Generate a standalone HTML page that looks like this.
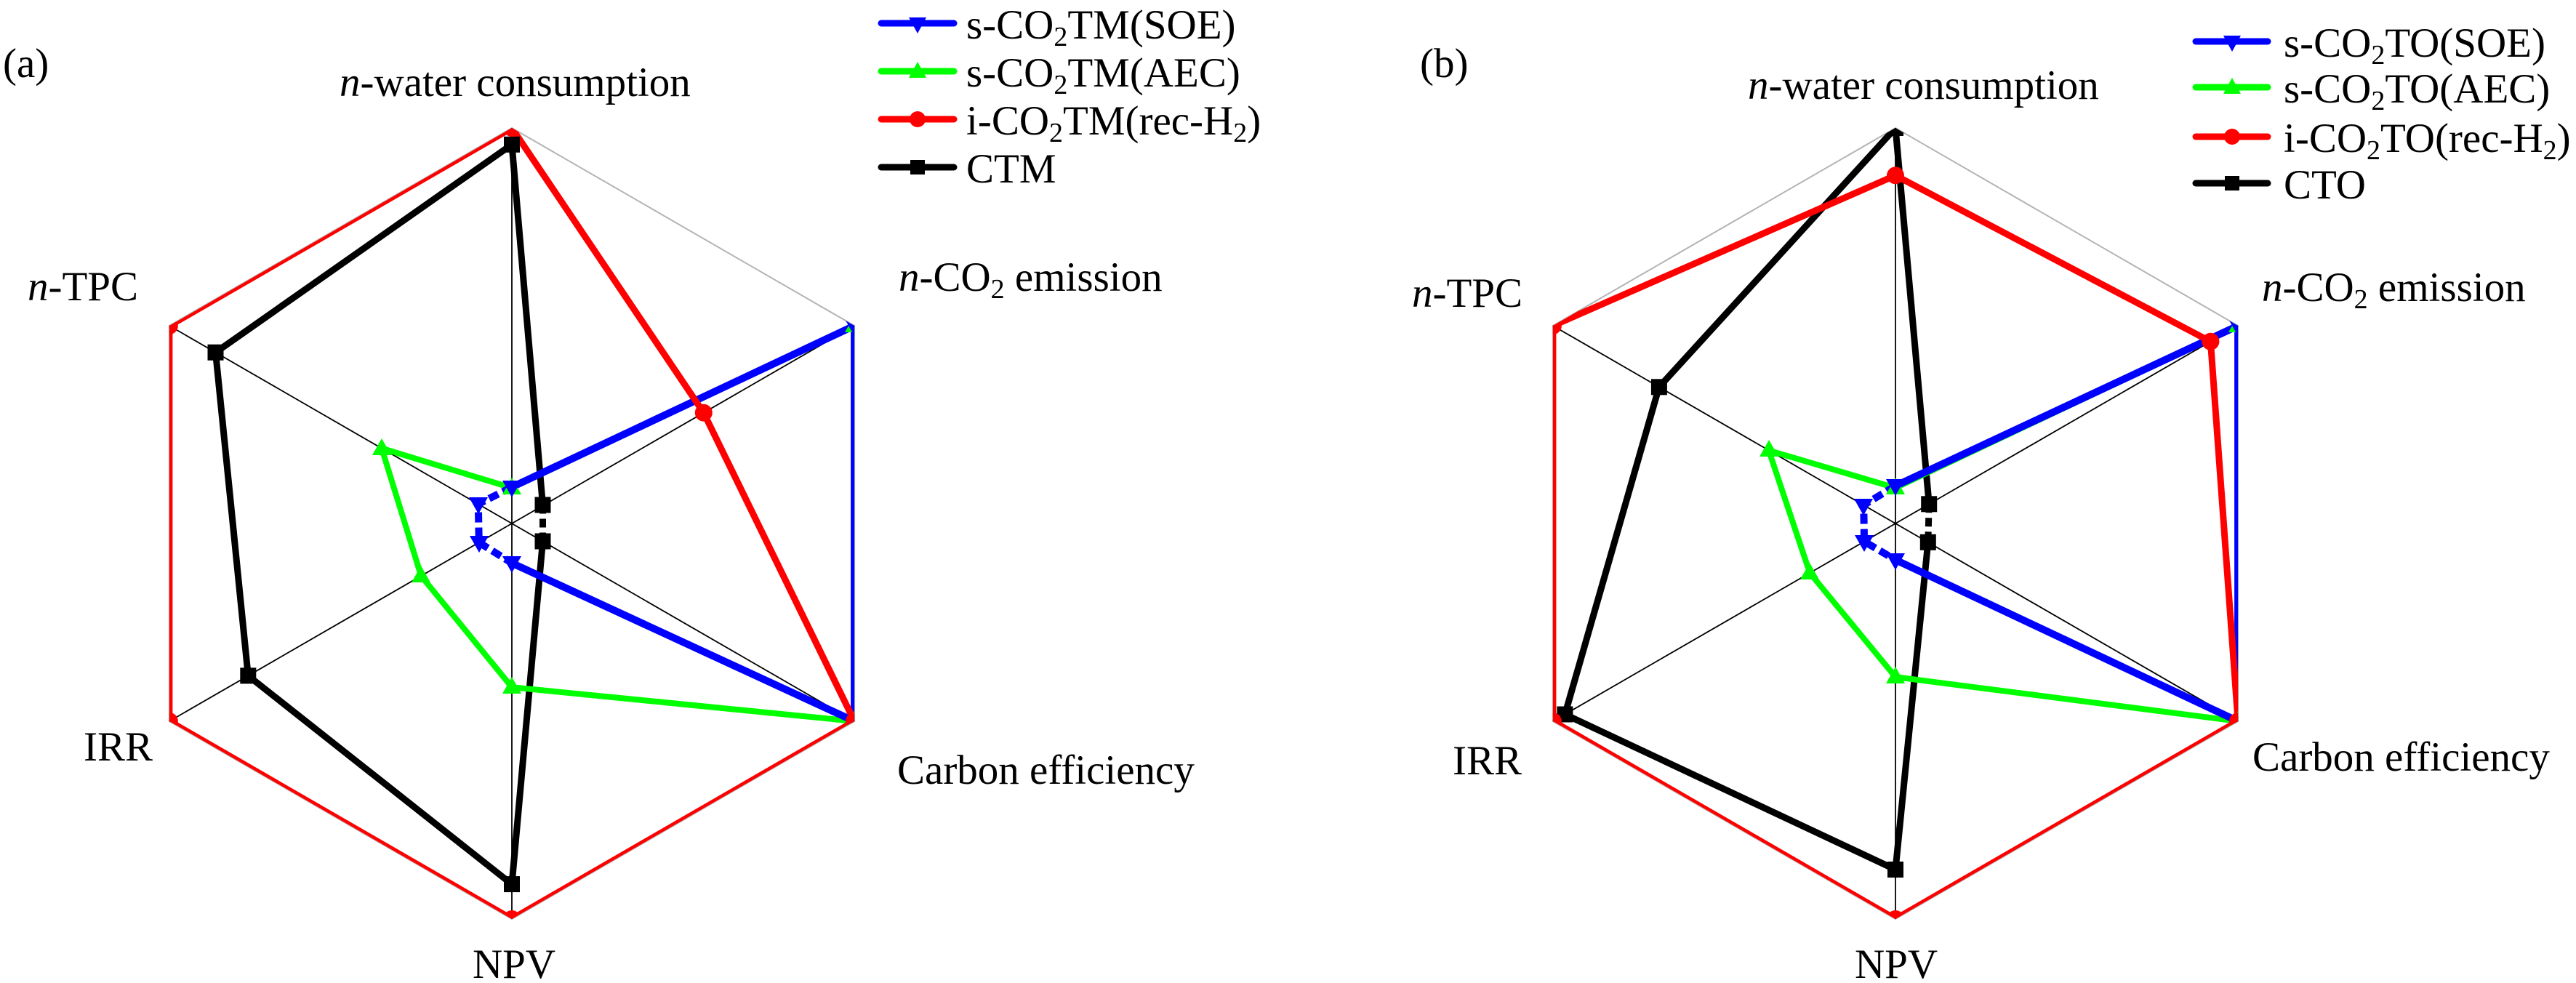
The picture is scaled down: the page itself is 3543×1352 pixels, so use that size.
<!DOCTYPE html>
<html>
<head>
<meta charset="utf-8">
<style>
  html, body { margin: 0; padding: 0; background: #ffffff; }
  body { width: 3543px; height: 1352px; overflow: hidden; }
  svg { display: block; }
  text { font-family: "Liberation Serif", "Times New Roman", serif; font-size: 57px; fill: #000; }
</style>
</head>
<body>
<svg width="3543" height="1352" viewBox="0 0 3543 1352" xmlns="http://www.w3.org/2000/svg" font-family="Liberation Serif, Times New Roman, serif">
  <rect x="0" y="0" width="3543" height="1352" fill="#ffffff"/>
  <defs>
    <clipPath id="hexA">
      <polygon points="704,176 1175.1,448 1175.1,992 704,1264 232.9,992 232.9,448"/>
    </clipPath>
    <clipPath id="hexB">
      <polygon points="2607,176 3078.1,448 3078.1,992 2607,1264 2135.9,992 2135.9,448"/>
    </clipPath>
  </defs>

  <!-- ================= CHART (a) ================= -->
  <g>
    <polygon points="704,176 1175.1,448 1175.1,992 704,1264 232.9,992 232.9,448" fill="none" stroke="#b4b4b4" stroke-width="2"/>
    <g stroke="#000" stroke-width="1.8">
      <line x1="704" y1="720" x2="704" y2="176"/>
      <line x1="704" y1="720" x2="1175.1" y2="448"/>
      <line x1="704" y1="720" x2="1175.1" y2="992"/>
      <line x1="704" y1="720" x2="704" y2="1264"/>
      <line x1="704" y1="720" x2="232.9" y2="992"/>
      <line x1="704" y1="720" x2="232.9" y2="448"/>
    </g>
    <g clip-path="url(#hexA)" fill="none" stroke-linejoin="round">
      <path d="M704,198.8 L746.5,694.5" stroke="#000" stroke-width="9"/>
      <path d="M746.5,694.5 L746.5,744.5" stroke="#000" stroke-width="9" stroke-dasharray="12 7"/>
      <path d="M746.5,744.5 L704,1216.1 L341.3,929.4 L296.5,484.7 L704,198.8" stroke="#000" stroke-width="9"/>
      <polygon points="704,671 1175.1,448 1175.1,992 704,945.2 579.2,792.1 525,616.6" stroke="#00ff00" stroke-width="8"/>
      <path d="M704,774.4 L1175.1,992 L1175.1,448 L704,670" stroke="#0000ff" stroke-width="10"/>
      <path d="M704,670 L657.8,693.3 L658.8,746.1 L704,774.4" stroke="#0000ff" stroke-width="10" stroke-dasharray="14 7"/>
      <polygon points="704,176 967.8,567.7 1175.1,992 704,1264 232.9,992 232.9,448" stroke="#ff0000" stroke-width="9"/>

      <g fill="#000" stroke="none">
        <rect x="693" y="187.8" width="22" height="22"/>
        <rect x="735.5" y="683.5" width="22" height="22"/>
        <rect x="735.5" y="733.5" width="22" height="22"/>
        <rect x="693" y="1205.1" width="22" height="22"/>
        <rect x="330.3" y="918.4" width="22" height="22"/>
        <rect x="285.5" y="473.7" width="22" height="22"/>
      </g>
      <g fill="#00ff00" stroke="none">
        <polygon points="691,680 717,680 704,657"/>
        <polygon points="1162,457 1188,457 1175,434"/>
        <polygon points="1162,1001 1188,1001 1175,978"/>
        <polygon points="691,954 717,954 704,931"/>
        <polygon points="566,801 592,801 579,778"/>
        <polygon points="512,626 538,626 525,603"/>
      </g>
      <g fill="#0000ff" stroke="none">
        <polygon points="691,661 717,661 704,684"/>
        <polygon points="1162,439 1188,439 1175,462"/>
        <polygon points="1162,983 1188,983 1175,1006"/>
        <polygon points="691,765 717,765 704,788"/>
        <polygon points="646,737 672,737 659,760"/>
        <polygon points="645,684 671,684 658,707"/>
      </g>
      <g fill="#ff0000" stroke="none">
        <circle cx="704" cy="176" r="12"/>
        <circle cx="967.8" cy="567.7" r="12"/>
        <circle cx="1175.1" cy="992" r="12"/>
        <circle cx="704" cy="1264" r="12"/>
        <circle cx="232.9" cy="992" r="12"/>
        <circle cx="232.9" cy="448" r="12"/>
      </g>
    </g>

    <text x="4" y="106">(a)</text>
    <text x="467" y="132"><tspan font-style="italic">n</tspan>-water consumption</text>
    <text x="1236" y="400"><tspan font-style="italic">n</tspan>-CO<tspan font-size="38" dy="10">2</tspan><tspan dy="-10"> emission</tspan></text>
    <text x="1234" y="1078">Carbon efficiency</text>
    <text x="650" y="1345">NPV</text>
    <text x="115" y="1046">IRR</text>
    <text x="38" y="413"><tspan font-style="italic">n</tspan>-TPC</text>

    <g stroke-linecap="round" stroke-width="9">
      <line x1="1212" y1="32" x2="1312" y2="32" stroke="#0000ff"/>
      <line x1="1212" y1="98" x2="1312" y2="98" stroke="#00ff00"/>
      <line x1="1212" y1="164" x2="1312" y2="164" stroke="#ff0000"/>
      <line x1="1212" y1="230" x2="1312" y2="230" stroke="#000"/>
    </g>
    <polygon points="1250,24 1274,24 1262,46" fill="#0000ff"/>
    <polygon points="1250,107 1274,107 1262,85" fill="#00ff00"/>
    <circle cx="1262" cy="164" r="11" fill="#ff0000"/>
    <rect x="1252" y="220" width="20" height="20" fill="#000"/>
    <text x="1329" y="53">s-CO<tspan font-size="38" dy="10">2</tspan><tspan dy="-10">TM(SOE)</tspan></text>
    <text x="1329" y="119">s-CO<tspan font-size="38" dy="10">2</tspan><tspan dy="-10">TM(AEC)</tspan></text>
    <text x="1329" y="185">i-CO<tspan font-size="38" dy="10">2</tspan><tspan dy="-10">TM(rec-H</tspan><tspan font-size="38" dy="10">2</tspan><tspan dy="-10">)</tspan></text>
    <text x="1329" y="251">CTM</text>
  </g>

  <!-- ================= CHART (b) ================= -->
  <g>
    <polygon points="2607,176 3078.1,448 3078.1,992 2607,1264 2135.9,992 2135.9,448" fill="none" stroke="#b4b4b4" stroke-width="2"/>
    <g stroke="#000" stroke-width="1.8">
      <line x1="2607" y1="720" x2="2607" y2="176"/>
      <line x1="2607" y1="720" x2="3078.1" y2="448"/>
      <line x1="2607" y1="720" x2="3078.1" y2="992"/>
      <line x1="2607" y1="720" x2="2607" y2="1264"/>
      <line x1="2607" y1="720" x2="2135.9" y2="992"/>
      <line x1="2607" y1="720" x2="2135.9" y2="448"/>
    </g>
    <g clip-path="url(#hexB)" fill="none" stroke-linejoin="round">
      <path d="M2607,176 L2653.2,693.3" stroke="#000" stroke-width="9"/>
      <path d="M2653.2,693.3 L2651.8,745.8" stroke="#000" stroke-width="9" stroke-dasharray="12 7"/>
      <path d="M2651.8,745.8 L2607,1196 L2152.4,982.5 L2281.9,532.3 L2607,176" stroke="#000" stroke-width="9"/>
      <polygon points="2607,671 3078.1,448 3078.1,992 2607,931.1 2489.2,788 2432.7,619.4" stroke="#00ff00" stroke-width="8"/>
      <path d="M2607,770 L3078.1,992 L3078.1,448 L2607,668.3" stroke="#0000ff" stroke-width="10"/>
      <path d="M2607,668.3 L2563.2,694.7 L2564.1,744.8 L2607,770" stroke="#0000ff" stroke-width="10" stroke-dasharray="14 7"/>
      <polygon points="2607,241.3 3040.4,469.8 3078.1,992 2607,1264 2135.9,992 2135.9,448" stroke="#ff0000" stroke-width="9"/>

      <g fill="#000" stroke="none">
        <rect x="2596" y="165" width="22" height="22"/>
        <rect x="2642.2" y="682.3" width="22" height="22"/>
        <rect x="2640.8" y="734.8" width="22" height="22"/>
        <rect x="2596" y="1185" width="22" height="22"/>
        <rect x="2141.4" y="971.5" width="22" height="22"/>
        <rect x="2270.9" y="521.3" width="22" height="22"/>
      </g>
      <g fill="#00ff00" stroke="none">
        <polygon points="2594,680 2620,680 2607,657"/>
        <polygon points="3065,457 3091,457 3078,434"/>
        <polygon points="3065,1001 3091,1001 3078,978"/>
        <polygon points="2594,940 2620,940 2607,917"/>
        <polygon points="2476,797 2502,797 2489,774"/>
        <polygon points="2420,628 2446,628 2433,605"/>
      </g>
      <g fill="#0000ff" stroke="none">
        <polygon points="2594,659 2620,659 2607,682"/>
        <polygon points="3065,439 3091,439 3078,462"/>
        <polygon points="3065,983 3091,983 3078,1006"/>
        <polygon points="2594,761 2620,761 2607,784"/>
        <polygon points="2551,736 2577,736 2564,759"/>
        <polygon points="2550,686 2576,686 2563,709"/>
      </g>
      <g fill="#ff0000" stroke="none">
        <circle cx="2607" cy="241.3" r="12"/>
        <circle cx="3040.4" cy="469.8" r="12"/>
        <circle cx="3078.1" cy="992" r="12"/>
        <circle cx="2607" cy="1264" r="12"/>
        <circle cx="2135.9" cy="992" r="12"/>
        <circle cx="2135.9" cy="448" r="12"/>
      </g>
    </g>

    <text x="1953" y="106">(b)</text>
    <text x="2404" y="136"><tspan font-style="italic">n</tspan>-water consumption</text>
    <text x="3111" y="414"><tspan font-style="italic">n</tspan>-CO<tspan font-size="38" dy="10">2</tspan><tspan dy="-10"> emission</tspan></text>
    <text x="3098" y="1060">Carbon efficiency</text>
    <text x="2551" y="1345">NPV</text>
    <text x="1998" y="1065">IRR</text>
    <text x="1942" y="422"><tspan font-style="italic">n</tspan>-TPC</text>

    <g stroke-linecap="round" stroke-width="9">
      <line x1="3020" y1="57" x2="3119" y2="57" stroke="#0000ff"/>
      <line x1="3020" y1="120" x2="3119" y2="120" stroke="#00ff00"/>
      <line x1="3020" y1="188" x2="3119" y2="188" stroke="#ff0000"/>
      <line x1="3020" y1="252" x2="3119" y2="252" stroke="#000"/>
    </g>
    <polygon points="3058,49 3082,49 3070,71" fill="#0000ff"/>
    <polygon points="3058,129 3082,129 3070,107" fill="#00ff00"/>
    <circle cx="3070" cy="188" r="11" fill="#ff0000"/>
    <rect x="3060" y="242" width="20" height="20" fill="#000"/>
    <text x="3141" y="78">s-CO<tspan font-size="38" dy="10">2</tspan><tspan dy="-10">TO(SOE)</tspan></text>
    <text x="3141" y="141">s-CO<tspan font-size="38" dy="10">2</tspan><tspan dy="-10">TO(AEC)</tspan></text>
    <text x="3141" y="209">i-CO<tspan font-size="38" dy="10">2</tspan><tspan dy="-10">TO(rec-H</tspan><tspan font-size="38" dy="10">2</tspan><tspan dy="-10">)</tspan></text>
    <text x="3141" y="273">CTO</text>
  </g>
</svg>
</body>
</html>
